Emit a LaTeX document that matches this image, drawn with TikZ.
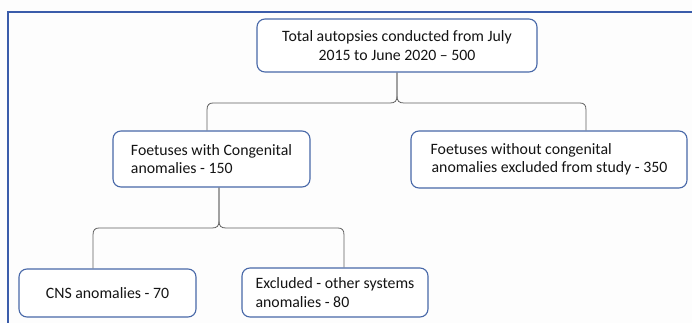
\documentclass[tikz,border=0pt]{standalone}
\usepackage{fontspec}
\setmainfont{Carlito}
\definecolor{boxblue}{RGB}{72,104,168}
\definecolor{frameblue}{RGB}{58,92,170}
\definecolor{conngray}{RGB}{96,96,96}
\definecolor{bggray}{RGB}{253,253,253}
\definecolor{txt}{RGB}{20,20,20}
\tikzset{
  box/.style={draw=boxblue, line width=1.1pt, rounded corners=8pt, fill=white,
    inner sep=0pt, text=txt, font=\fontsize{15.8}{18.5}\selectfont},
  conn/.style={draw=conngray, line width=0.8pt},
  framestyle/.style={draw=frameblue, line width=1.6pt}
}
\begin{document}
\begin{tikzpicture}[x=1pt,y=-1pt]
\useasboundingbox (0,0) rectangle (692,323);
\clip (0,0) rectangle (692,323);
\fill[bggray] (0,0) rectangle (692,323);
\draw[framestyle] (710,12) -- (8,12) -- (8,340);

\node[box, minimum width=280pt, minimum height=53pt, align=center]
  (top) at (397,45.5) {Total autopsies conducted from July\\2015 to June 2020 -- 500};
\node[box, minimum width=197pt, minimum height=56pt, align=left]
  (mid1) at (211.5,159) {Foetuses with Congenital\\anomalies - 150};
\node[box, minimum width=276pt, minimum height=57pt, align=left]
  (mid2) at (549,159.5) {Foetuses without congenital\\\hspace{1pt}anomalies excluded from study - 350};
\node[box, minimum width=177pt, minimum height=48pt, align=center]
  (cns) at (107.5,293) {CNS anomalies - 70};
\node[box, minimum width=186pt, minimum height=49pt, align=left]
  (excl) at (335,292.5) {Excluded - other systems\\anomalies - 80};

\coordinate (legA) at (207,0);
\coordinate (legB) at (586,0);
\coordinate (stemC) at (219,0);
\coordinate (legC) at (93,0);
\coordinate (legD) at (344,0);

% upper brace
\draw[conn] (top.south) -- (397,96) .. controls (397,101) and (395,103) .. (390,103)
  -- (213,103) .. controls (209,103) and (207,105) .. (207,110) -- (mid1.north -| legA);
\draw[conn] (top.south) -- (397,96) .. controls (397,101) and (399,103) .. (404,103)
  -- (580,103) .. controls (584,103) and (586,105) .. (586,110) -- (mid2.north -| legB);
% lower brace
\draw[conn] (mid1.south -| stemC) -- (219,221) .. controls (219,226) and (217,228) .. (212,228)
  -- (99,228) .. controls (95,228) and (93,230) .. (93,235) -- (cns.north -| legC);
\draw[conn] (mid1.south -| stemC) -- (219,221) .. controls (219,226) and (221,228) .. (226,228)
  -- (338,228) .. controls (342,228) and (344,230) .. (344,235) -- (excl.north -| legD);
\end{tikzpicture}
\end{document}
